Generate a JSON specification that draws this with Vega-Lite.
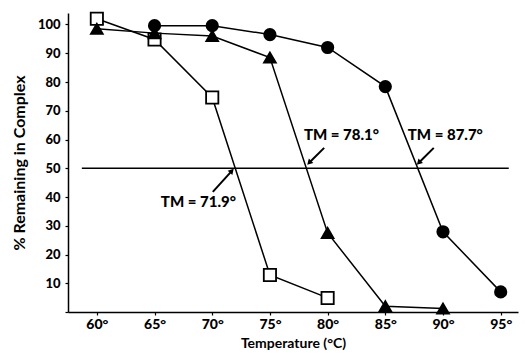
{
  "$schema": "https://vega.github.io/schema/vega-lite/v6.json",
  "width": 450,
  "height": 299,
  "autosize": {"type": "none"},
  "padding": {"left": 68, "top": 13, "right": 7, "bottom": 42},
  "background": "white",
  "config": {"view": {"stroke": null}, "font": "Lato", "axis": {"labelOverlap": false}},
  "datasets": {
    "pts": [
      {"series": "open", "t": 60, "v": 102},
      {"series": "open", "t": 65, "v": 94.8},
      {"series": "open", "t": 70, "v": 74.6},
      {"series": "open", "t": 75, "v": 12.9},
      {"series": "open", "t": 80, "v": 4.9},
      {"series": "tri", "t": 60, "v": 98.5},
      {"series": "tri", "t": 65, "v": 97},
      {"series": "tri", "t": 70, "v": 96},
      {"series": "tri", "t": 75, "v": 88.5},
      {"series": "tri", "t": 80, "v": 27.5},
      {"series": "tri", "t": 85, "v": 2},
      {"series": "tri", "t": 90, "v": 1.2},
      {"series": "circ", "t": 65, "v": 99.6},
      {"series": "circ", "t": 70, "v": 99.6},
      {"series": "circ", "t": 75, "v": 96.5},
      {"series": "circ", "t": 80, "v": 92},
      {"series": "circ", "t": 85, "v": 78.4},
      {"series": "circ", "t": 90, "v": 27.9},
      {"series": "circ", "t": 95, "v": 7}
    ],
    "notes": [
      {"label": "TM = 71.9°", "tx": 68.8, "ty": 38.3, "ax": 70.05, "ay": 41.8, "hx": 71.7, "hy": 49.1, "ang": 42},
      {"label": "TM = 78.1°", "tx": 81.2, "ty": 61.7, "ax": 79.7, "ay": 57.1, "hx": 78.4, "hy": 51.9, "ang": 225},
      {"label": "TM = 87.7°", "tx": 90.2, "ty": 61.7, "ax": 89.2, "ay": 57.1, "hx": 87.9, "hy": 51.9, "ang": 225}
    ],
    "half": [{"x1": 58.7, "x2": 95.7, "y": 50}]
  },
  "layer": [
    {
      "data": {"name": "half"},
      "mark": {"type": "rule", "color": "black", "strokeWidth": 1.5},
      "encoding": {
        "x": {"field": "x1", "type": "quantitative", "scale": {"domain": [57.5, 96.5], "nice": false, "zero": false},
          "axis": {"values": [60, 65, 70, 75, 80, 85, 90, 95], "labelExpr": "datum.value + '°'", "title": "Temperature (°C)",
            "grid": false, "domainColor": "black", "domainWidth": 1.5, "tickColor": "black", "tickSize": 3, "tickWidth": 1.2,
            "labelFont": "Lato", "labelFontWeight": 900, "labelFontSize": 14, "labelColor": "black", "labelPadding": 2, "labelOverlap": false,
            "titleFont": "Lato", "titleFontWeight": "bold", "titleFontSize": 14, "titleColor": "black", "titlePadding": 5}},
        "x2": {"field": "x2"},
        "y": {"field": "y", "type": "quantitative", "scale": {"domain": [0, 104], "nice": false},
          "axis": {"tickCount": 11, "labelExpr": "datum.value == 0 ? '' : datum.label", "title": "% Remaining in Complex",
            "grid": false, "domainColor": "black", "domainWidth": 1.5, "tickColor": "black", "tickSize": 3, "tickWidth": 1.2,
            "labelFont": "Lato", "labelFontWeight": 900, "labelFontSize": 13, "labelColor": "black", "labelPadding": 5, "labelOverlap": false,
            "titleFont": "Lato", "titleFontWeight": "bold", "titleFontSize": 16, "titleColor": "black", "titlePadding": 10}}
      }
    },
    {
      "data": {"name": "pts"},
      "mark": {"type": "line", "color": "black", "strokeWidth": 1.5},
      "encoding": {
        "x": {"field": "t", "type": "quantitative"},
        "y": {"field": "v", "type": "quantitative"},
        "detail": {"field": "series"}
      }
    },
    {
      "data": {"name": "notes"},
      "mark": {"type": "rule", "color": "black", "strokeWidth": 2},
      "encoding": {
        "x": {"field": "ax", "type": "quantitative"},
        "y": {"field": "ay", "type": "quantitative"},
        "x2": {"field": "hx"},
        "y2": {"field": "hy"}
      }
    },
    {
      "data": {"name": "notes"},
      "mark": {"type": "point", "shape": "triangle-up", "filled": true, "color": "black", "size": 40, "opacity": 1},
      "encoding": {
        "x": {"field": "hx", "type": "quantitative"},
        "y": {"field": "hy", "type": "quantitative"},
        "angle": {"field": "ang", "type": "quantitative", "scale": null}
      }
    },
    {
      "data": {"name": "notes"},
      "mark": {"type": "text", "font": "Lato", "fontWeight": 900, "fontSize": 15, "color": "black"},
      "encoding": {
        "x": {"field": "tx", "type": "quantitative"},
        "y": {"field": "ty", "type": "quantitative"},
        "text": {"field": "label"}
      }
    },
    {
      "data": {"name": "pts"},
      "mark": {"type": "point", "opacity": 1, "stroke": "black", "strokeWidth": 1.8},
      "encoding": {
        "x": {"field": "t", "type": "quantitative"},
        "y": {"field": "v", "type": "quantitative"},
        "shape": {"field": "series", "type": "nominal", "scale": {"domain": ["open", "tri", "circ"], "range": ["square", "triangle-up", "circle"]}, "legend": null},
        "fill": {"field": "series", "type": "nominal", "scale": {"domain": ["open", "tri", "circ"], "range": ["white", "black", "black"]}, "legend": null},
        "size": {"field": "series", "type": "nominal", "scale": {"domain": ["open", "tri", "circ"], "range": [150, 130, 110]}, "legend": null}
      }
    }
  ]
}
